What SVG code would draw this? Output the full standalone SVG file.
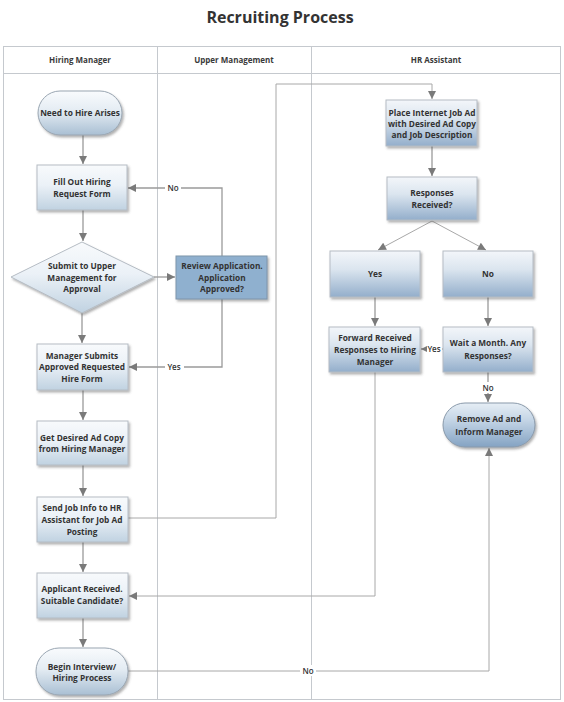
<svg xmlns="http://www.w3.org/2000/svg" width="564" height="702" viewBox="0 0 564 702">
<style>
.t{font-family:"Open Sans","Noto Sans","Liberation Sans",sans-serif;font-weight:bold;font-size:8.3px;fill:#333;text-anchor:middle}
.h{font-family:"Open Sans","Noto Sans","Liberation Sans",sans-serif;font-weight:bold;font-size:8px;fill:#3a3a3a;text-anchor:middle}
.lbl{font-family:"Open Sans","Noto Sans","Liberation Sans",sans-serif;font-weight:600;font-size:8px;fill:#333;text-anchor:middle}
.b1{fill:url(#g1);stroke:#b5bcc4;stroke-width:1;filter:url(#sh)}
.b3{fill:url(#g3);stroke:#b5bcc4;stroke-width:1;filter:url(#sh)}
.p1{fill:url(#gp1);stroke:#9aa6b2;stroke-width:1;filter:url(#sh)}
.p3{fill:url(#gp3);stroke:#8a9aab;stroke-width:1;filter:url(#sh)}
.rv{fill:#8fb0cf;stroke:#7f95ab;stroke-width:1;filter:url(#sh)}
.c{fill:none;stroke:#9a9a9a;stroke-width:1.3}
.cl{fill:none;stroke:#a8a8a8;stroke-width:1}
.frame{fill:none;stroke:#c5c9ce;stroke-width:1}
</style>
<defs>
<linearGradient id="g1" x1="0" y1="0" x2="0" y2="1"><stop offset="0" stop-color="#f8fafc"/><stop offset="0.45" stop-color="#ebf1f7"/><stop offset="1" stop-color="#c0d2e1"/></linearGradient>
<linearGradient id="g3" x1="0" y1="0" x2="0" y2="1"><stop offset="0" stop-color="#f3f6fa"/><stop offset="0.4" stop-color="#dbe5ef"/><stop offset="1" stop-color="#93aecb"/></linearGradient>
<linearGradient id="gp1" x1="0" y1="0" x2="0" y2="1"><stop offset="0" stop-color="#f9fbfd"/><stop offset="0.45" stop-color="#e4ecf3"/><stop offset="1" stop-color="#a9bfd3"/></linearGradient>
<linearGradient id="gp3" x1="0" y1="0" x2="0" y2="1"><stop offset="0" stop-color="#e6eef5"/><stop offset="0.4" stop-color="#c3d4e5"/><stop offset="1" stop-color="#84a3c3"/></linearGradient>
<filter id="sh" x="-10%" y="-10%" width="125%" height="130%"><feDropShadow dx="1.5" dy="2" stdDeviation="1" flood-color="#555" flood-opacity="0.45"/></filter>
<marker id="ar" viewBox="0 0 10 10" refX="10" refY="5" markerWidth="9" markerHeight="8" orient="auto" markerUnits="userSpaceOnUse"><path d="M0,0 L10,5 L0,10 z" fill="#7a7a7a"/></marker>
</defs>
<rect width="564" height="702" fill="#ffffff"/>
<text x="280" y="23" style="font-family:'Open Sans','Noto Sans','Liberation Sans',sans-serif;font-weight:bold;font-size:16px;fill:#333;text-anchor:middle">Recruiting Process</text>
<g id="pool">
<rect class="frame" x="3.5" y="46.5" width="557" height="653"/>
<line class="frame" x1="3.5" y1="73.5" x2="560.5" y2="73.5"/>
<line class="frame" x1="157.5" y1="46.5" x2="157.5" y2="699.5"/>
<line class="frame" x1="311.5" y1="46.5" x2="311.5" y2="699.5"/>
<text class="h" x="80" y="63">Hiring Manager</text>
<text class="h" x="234" y="63">Upper Management</text>
<text class="h" x="436" y="63">HR Assistant</text>
</g>
<g id="connectors">
<path class="c" d="M83,135 V164" marker-end="url(#ar)"/>
<path class="c" d="M83,210 V241" marker-end="url(#ar)"/>
<path class="c" d="M154,277 H175" marker-end="url(#ar)"/>
<path class="c" d="M222,256 V188 H128" marker-end="url(#ar)"/>
<path class="c" d="M222,299 V367 H129" marker-end="url(#ar)"/>
<path class="c" d="M82,313 V343" marker-end="url(#ar)"/>
<path class="c" d="M83,390 V420" marker-end="url(#ar)"/>
<path class="c" d="M83,465 V496" marker-end="url(#ar)"/>
<path class="cl" d="M128,518 H276 V84 H432 V99" marker-end="url(#ar)"/>
<path class="c" d="M83,542 V572" marker-end="url(#ar)"/>
<path class="cl" d="M375,372 V596 H129" marker-end="url(#ar)"/>
<path class="c" d="M83,618 V647" marker-end="url(#ar)"/>
<path class="cl" d="M128,671 H489 V448" marker-end="url(#ar)"/>
<path class="c" d="M432,146 V176" marker-end="url(#ar)"/>
<path class="cl" d="M432,221 L378,250" marker-end="url(#ar)"/>
<path class="cl" d="M432,221 L486,250" marker-end="url(#ar)"/>
<path class="c" d="M375,297 V326" marker-end="url(#ar)"/>
<path class="c" d="M488,297 V326" marker-end="url(#ar)"/>
<path class="c" d="M443,349 H421" marker-end="url(#ar)"/>
<path class="c" d="M488,372 V402" marker-end="url(#ar)"/>
<rect x="165" y="182" width="16" height="11" fill="#fff"/>
<text class="lbl" x="173" y="191">No</text>
<rect x="165" y="361" width="19" height="11" fill="#fff"/>
<text class="lbl" x="174" y="370">Yes</text>
<rect x="300" y="665" width="16" height="11" fill="#fff"/>
<text class="lbl" x="308" y="674">No</text>
<rect x="427" y="343" width="15" height="11" fill="#fff"/>
<text class="lbl" x="434" y="352">Yes</text>
<rect x="480" y="382" width="16" height="11" fill="#fff"/>
<text class="lbl" x="488" y="391">No</text>
</g>
<g id="n1"><rect class="p1" x="38" y="91" width="84" height="44" rx="22" ry="22"/><text class="t" x="80" y="116">Need to Hire Arises</text></g>
<g id="n2"><rect class="b1" x="37" y="165" width="90" height="45"/><text class="t" x="82" y="185">Fill Out Hiring</text><text class="t" x="82" y="197">Request Form</text></g>
<g id="n3"><polygon class="b1" points="82,242 154,277 82,313 11,277"/><text class="t" x="82" y="269">Submit to Upper</text><text class="t" x="82" y="281">Management for</text><text class="t" x="82" y="292">Approval</text></g>
<g id="n4"><rect class="rv" x="176" y="256" width="91" height="43"/><text class="t" x="222" y="269">Review Application.</text><text class="t" x="222" y="281">Application</text><text class="t" x="222" y="292">Approved?</text></g>
<g id="n5"><rect class="b1" x="37" y="344" width="91" height="46"/><text class="t" x="82" y="359">Manager Submits</text><text class="t" x="82" y="370">Approved Requested</text><text class="t" x="82" y="382">Hire Form</text></g>
<g id="n6"><rect class="b1" x="37" y="421" width="91" height="44"/><text class="t" x="82" y="441">Get Desired Ad Copy</text><text class="t" x="82" y="452">from Hiring Manager</text></g>
<g id="n7"><rect class="b1" x="37" y="497" width="91" height="45"/><text class="t" x="82" y="511">Send Job Info to HR</text><text class="t" x="82" y="523">Assistant for Job Ad</text><text class="t" x="82" y="535">Posting</text></g>
<g id="n8"><rect class="b1" x="37" y="573" width="91" height="45"/><text class="t" x="82" y="592">Applicant Received.</text><text class="t" x="82" y="604">Suitable Candidate?</text></g>
<g id="n9"><rect class="p1" x="36" y="648" width="92" height="47" rx="23" ry="23"/><text class="t" x="82" y="670">Begin Interview/</text><text class="t" x="82" y="681">Hiring Process</text></g>
<g id="n10"><rect class="b3" x="386" y="100" width="91" height="46"/><text class="t" x="432" y="116">Place Internet Job Ad</text><text class="t" x="432" y="127">with Desired Ad Copy</text><text class="t" x="432" y="138">and Job Description</text></g>
<g id="n11"><rect class="b3" x="387" y="177" width="90" height="43"/><text class="t" x="432" y="196">Responses</text><text class="t" x="432" y="208">Received?</text></g>
<g id="n12"><rect class="b3" x="330" y="251" width="90" height="46"/><text class="t" x="375" y="277">Yes</text></g>
<g id="n13"><rect class="b3" x="443" y="251" width="90" height="46"/><text class="t" x="488" y="277">No</text></g>
<g id="n14"><rect class="b3" x="329" y="327" width="91" height="45"/><text class="t" x="375" y="341">Forward Received</text><text class="t" x="375" y="353">Responses to Hiring</text><text class="t" x="375" y="365">Manager</text></g>
<g id="n15"><rect class="b3" x="443" y="327" width="90" height="45"/><text class="t" x="488" y="346">Wait a Month. Any</text><text class="t" x="488" y="359">Responses?</text></g>
<g id="n16"><rect class="p3" x="443" y="403" width="92" height="44" rx="22" ry="22"/><text class="t" x="489" y="422">Remove Ad and</text><text class="t" x="489" y="435">Inform Manager</text></g>
</svg>
